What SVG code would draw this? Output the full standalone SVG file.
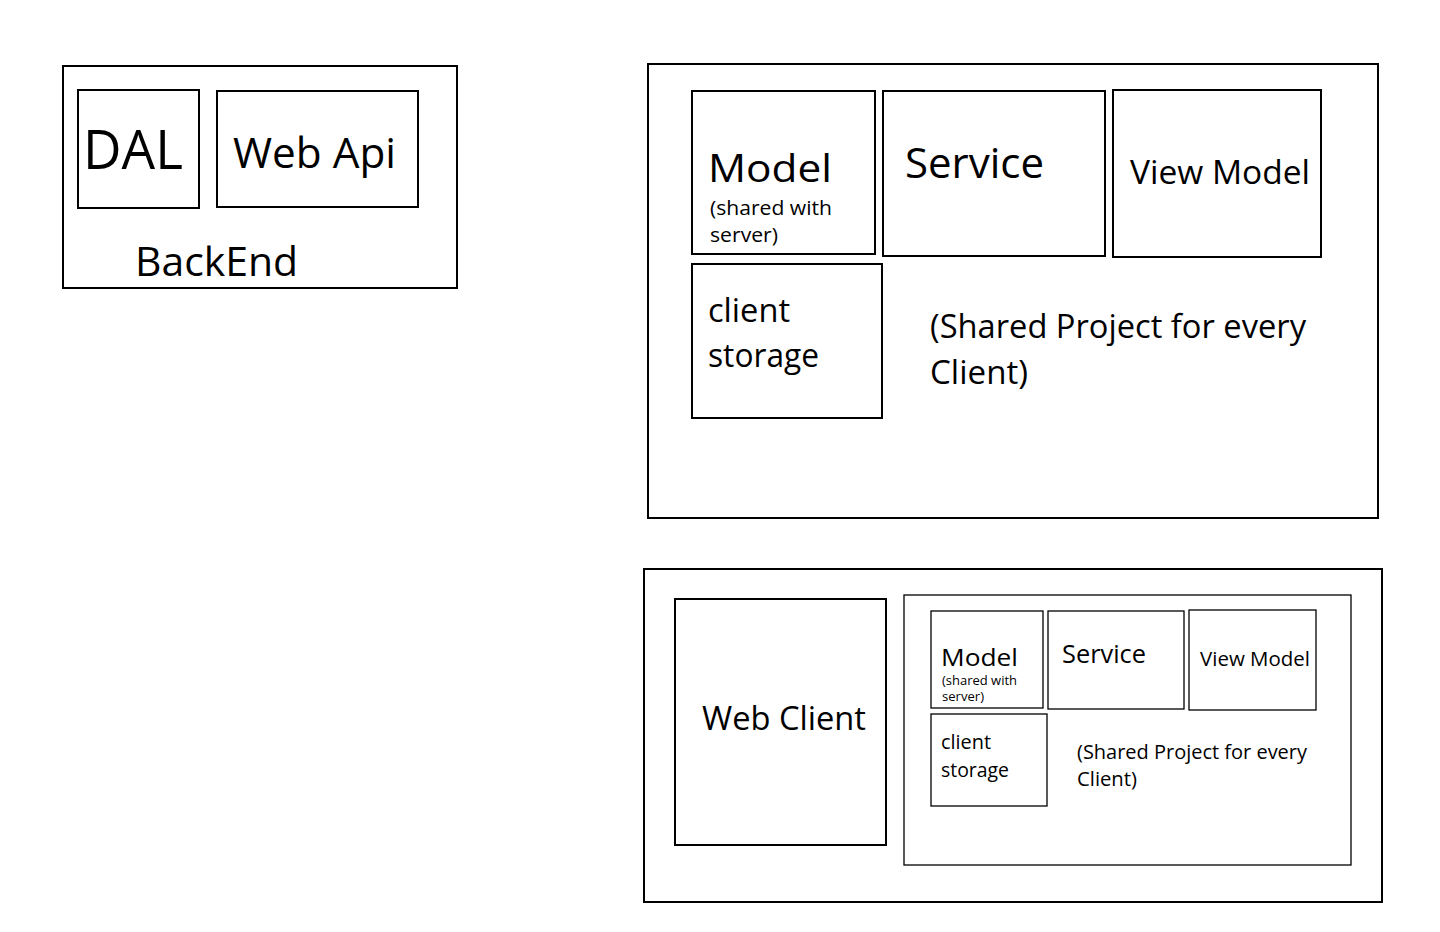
<svg xmlns="http://www.w3.org/2000/svg" width="1440" height="932" viewBox="0 0 1440 932">
<style>
.b{fill:#fff;stroke:#000;stroke-width:2}
.t{stroke-width:1.3}
text{font-family:"Open Sans","Noto Sans",sans-serif;fill:#000}
</style>
<rect width="1440" height="932" fill="#fff"/>
<g id="backend">
<rect class="b" x="63" y="66" width="394" height="222"/>
<text x="135" y="276" font-size="40" textLength="163" lengthAdjust="spacingAndGlyphs">BackEnd</text>
</g>
<g id="dal">
<rect class="b" x="78" y="90" width="121" height="118"/>
<text x="83" y="169" font-size="55" textLength="100" lengthAdjust="spacingAndGlyphs">DAL</text>
</g>
<g id="webapi">
<rect class="b" x="217" y="91" width="201" height="116"/>
<text x="233" y="168" font-size="42" textLength="163" lengthAdjust="spacingAndGlyphs">Web Api</text>
</g>
<g id="shared-top">
<rect class="b" x="648" y="64" width="730" height="454"/>
<text x="930" y="338" font-size="32" textLength="376" lengthAdjust="spacingAndGlyphs">(Shared Project for every</text>
<text x="930" y="384" font-size="32" textLength="98" lengthAdjust="spacingAndGlyphs">Client)</text>
</g>
<g id="model-top">
<rect class="b" x="692" y="91" width="183" height="163"/>
<text x="708" y="182" font-size="39" textLength="124" lengthAdjust="spacingAndGlyphs">Model</text>
<text x="710" y="215" font-size="20" textLength="122" lengthAdjust="spacingAndGlyphs">(shared with</text>
<text x="710" y="242" font-size="20" textLength="68" lengthAdjust="spacingAndGlyphs">server)</text>
</g>
<g id="service-top">
<rect class="b" x="883" y="91" width="222" height="165"/>
<text x="905" y="178" font-size="42" textLength="139" lengthAdjust="spacingAndGlyphs">Service</text>
</g>
<g id="viewmodel-top">
<rect class="b" x="1113" y="90" width="208" height="167"/>
<text x="1130" y="184" font-size="33" textLength="180" lengthAdjust="spacingAndGlyphs">View Model</text>
</g>
<g id="storage-top">
<rect class="b" x="692" y="264" width="190" height="154"/>
<text x="708" y="322" font-size="33" textLength="82" lengthAdjust="spacingAndGlyphs">client</text>
<text x="708" y="367" font-size="33" textLength="111" lengthAdjust="spacingAndGlyphs">storage</text>
</g>
<g id="client-outer">
<rect class="b" x="644" y="569" width="738" height="333"/>
</g>
<g id="webclient">
<rect class="b" x="675" y="599" width="211" height="246"/>
<text x="702" y="730" font-size="32" textLength="164" lengthAdjust="spacingAndGlyphs">Web Client</text>
</g>
<g id="shared-bottom">
<rect class="b t" x="904" y="595" width="447" height="270"/>
<text x="1077" y="759" font-size="20" textLength="230" lengthAdjust="spacingAndGlyphs">(Shared Project for every</text>
<text x="1077" y="786" font-size="20" textLength="60" lengthAdjust="spacingAndGlyphs">Client)</text>
</g>
<g id="model-bottom">
<rect class="b t" x="931" y="611" width="112" height="97"/>
<text x="941" y="666" font-size="24" textLength="77" lengthAdjust="spacingAndGlyphs">Model</text>
<text x="942" y="685" font-size="12" textLength="75" lengthAdjust="spacingAndGlyphs">(shared with</text>
<text x="942" y="701" font-size="12" textLength="42" lengthAdjust="spacingAndGlyphs">server)</text>
</g>
<g id="service-bottom">
<rect class="b t" x="1048" y="611" width="136" height="98"/>
<text x="1062" y="663" font-size="25" textLength="84" lengthAdjust="spacingAndGlyphs">Service</text>
</g>
<g id="viewmodel-bottom">
<rect class="b t" x="1189" y="610" width="127" height="100"/>
<text x="1200" y="666" font-size="20" textLength="110" lengthAdjust="spacingAndGlyphs">View Model</text>
</g>
<g id="storage-bottom">
<rect class="b t" x="931" y="714" width="116" height="92"/>
<text x="941" y="749" font-size="20" textLength="50" lengthAdjust="spacingAndGlyphs">client</text>
<text x="941" y="777" font-size="20" textLength="68" lengthAdjust="spacingAndGlyphs">storage</text>
</g>
<g id="connectors"></g>
</svg>
